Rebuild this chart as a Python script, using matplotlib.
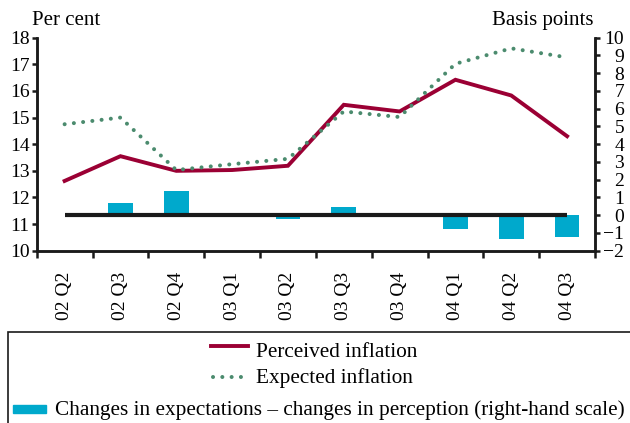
import matplotlib
matplotlib.use('Agg')
import matplotlib.pyplot as plt
import matplotlib.patches as mpatches
from matplotlib.lines import Line2D
import numpy as np

plt.rcParams['font.family'] = ['Liberation Serif', 'DejaVu Serif']
plt.rcParams['font.size'] = 14

RED = '#9B0034'
GREEN = '#4B8B6E'
CYAN = '#00A9CC'
BLACK = '#1A1A1A'

# quarterly survey results
quarters = ['02 Q2', '02 Q3', '02 Q4', '03 Q1', '03 Q2',
            '03 Q3', '03 Q4', '04 Q1', '04 Q2', '04 Q3']
perceived = [12.62, 13.55, 13.00, 13.03, 13.19, 15.48, 15.23, 16.42, 15.83, 14.30]
expected = [14.75, 15.00, 13.03, 13.25, 13.45, 15.23, 15.02, 17.02, 17.60, 17.26]
gap_bp = [0.0, 0.7, 1.35, 0.0, -0.2, 0.45, 0.0, -0.8, -1.35, -1.2]

W, H = 630, 423
TITLE_FS = 15
LEGEND_FS = 15.3


def fx(px):
    return px / W


def fy(py):
    return 1 - py / H


fig = plt.figure(figsize=(6.3, 4.23), dpi=100)
ax = fig.add_axes([fx(36.7), fy(250.7), fx(595 - 36.7), (250.7 - 37.7) / H])
ax2 = ax.twinx()

x = np.arange(len(quarters))

# left scale: inflation, per cent
ax.plot(x, perceived, color=RED, lw=2.8, solid_joinstyle='miter', zorder=3)
ax.plot(x, expected, color=GREEN, lw=2.9, linestyle=(0, (0.01, 2.3)),
        dash_capstyle='round', zorder=3)
ax.set_ylim(10, 18)
ax.set_yticks(range(10, 19))
ax.set_xlim(-0.5, len(quarters) - 0.5)

# right scale: gap, basis points
ax2.bar(x, gap_bp, width=0.44, color=CYAN, zorder=1)
ax2.plot(x, np.zeros(len(x)), color=BLACK, lw=3.0, solid_capstyle='butt', zorder=2)
ax2.set_ylim(-2, 10)
ax2.set_yticks(range(-2, 11))

# x axis: ticks between quarters, labels at quarters
ax.set_xticks(np.arange(-0.5, len(quarters), 1))
ax.set_xticklabels([])
ax.set_xticks(x, quarters, minor=True)
ax.tick_params(axis='x', which='major', direction='out', length=5, width=1.8, color=BLACK)
ax.tick_params(axis='x', which='minor', length=0, labelrotation=90, pad=15)

ax.tick_params(axis='y', direction='out', length=3.6, width=1.8, color=BLACK, pad=1.5)
ax2.tick_params(axis='y', direction='out', length=3.6, width=1.8, color=BLACK, pad=17.5)
for lab in ax2.get_yticklabels():
    lab.set_horizontalalignment('right')

for a in (ax, ax2):
    a.spines['top'].set_visible(False)
    for s in ('left', 'right', 'bottom'):
        a.spines[s].set_linewidth(1.8)
        a.spines[s].set_color(BLACK)

fig.text(fx(32), fy(25), 'Per cent', ha='left', va='baseline', fontsize=TITLE_FS)
fig.text(fx(593), fy(25), 'Basis points', ha='right', va='baseline', fontsize=TITLE_FS)

# legend panel
fig.patches.append(mpatches.Rectangle((fx(8), -0.05), 1.0, fy(332) + 0.05,
                                      transform=fig.transFigure, fill=False,
                                      edgecolor=BLACK, lw=1.2))
fig.lines.append(Line2D([fx(211), fx(248)], [fy(346), fy(346)], color=RED, lw=2.8,
                        transform=fig.transFigure))
fig.text(fx(256), fy(357), 'Perceived inflation', ha='left', va='baseline',
         fontsize=LEGEND_FS)
fig.lines.append(Line2D([fx(213), fx(245)], [fy(377), fy(377)], color=GREEN, lw=2.9,
                        linestyle=(0, (0.01, 2.3)), dash_capstyle='round',
                        transform=fig.transFigure))
fig.text(fx(256), fy(383), 'Expected inflation', ha='left', va='baseline',
         fontsize=LEGEND_FS)
fig.patches.append(mpatches.Rectangle((fx(13), fy(413)), fx(33), 8 / H,
                                      transform=fig.transFigure, color=CYAN))
fig.text(fx(55), fy(415), 'Changes in expectations \u2013 changes in perception (right-hand scale)',
         ha='left', va='baseline', fontsize=LEGEND_FS)

fig.savefig('out.png', dpi=100)
